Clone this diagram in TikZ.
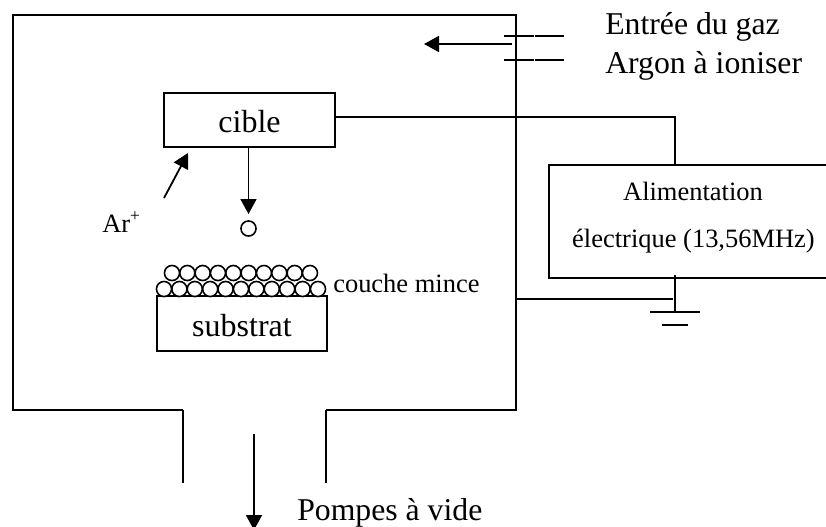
\documentclass[tikz,border=0pt]{standalone}
\usepackage{fontspec}
\setmainfont{Liberation Serif}
\usetikzlibrary{arrows.meta}
\begin{document}
\begin{tikzpicture}[x=0.75pt,y=-0.75pt,
  wall/.style={line width=1.6pt},
  wire/.style={line width=1.35pt},
  arr/.style={line width=1.35pt,-{Triangle[length=11.25pt,width=12pt]}},
  atom/.style={circle,draw,line width=1.2pt,fill=white,minimum size=11.3pt,inner sep=0pt},
  big/.style={font=\fontsize{23.8pt}{28pt}\selectfont,inner sep=0pt},
  mid/.style={font=\fontsize{19.85pt}{24pt}\selectfont,inner sep=0pt},
  boxed/.style={draw,line width=1.4pt,inner sep=0pt,font=\fontsize{24pt}{28pt}\selectfont,text depth=0pt}]
\useasboundingbox (0,0) rectangle (826,526);
\draw[wall] (183,410) -- (13,410) -- (13,15) -- (516,15) -- (516,410) -- (326,410);
\draw[wire] (183,410) -- (183,483);
\draw[wire] (326,410) -- (326,483);
% gas inlet
\coordinate (g1a) at (504,36); \coordinate (g1b) at (533.5,36);
\coordinate (g1c) at (535,36); \coordinate (g1d) at (564,36);
\coordinate (g2a) at (504,60); \coordinate (g2b) at (533.5,60);
\coordinate (g2c) at (535,60); \coordinate (g2d) at (564,60);
\draw[wire] (g1a) -- (g1b) (g1c) -- (g1d);
\draw[wire] (g2a) -- (g2b) (g2c) -- (g2d);
\coordinate (gs) at (512,44); \coordinate (ge) at (424,44);
\draw[arr] (gs) -- (ge);
\node[big,anchor=base west] (entree) at (605,34) {Entrée du gaz};
\node[big,anchor=base west] (argon) at (605,73) {Argon à ioniser};
% boxes
\node[boxed,text height=18pt,minimum width=128.5pt,minimum height=40.5pt] (cible) at (249.5,120) {cible};
\node[boxed,text height=18.8pt,minimum width=127.5pt,minimum height=41.25pt] (substrat) at (242,323.5) {substrat};
% alimentation
\coordinate (a1) at (826,165); \coordinate (a2) at (549,165);
\coordinate (a3) at (549,278); \coordinate (a4) at (826,278);
\draw[wire] (a1) -- (a2) -- (a3) -- (a4);
\node[mid,anchor=base] (alim1) at (693,200) {Alimentation};
\node[mid,anchor=base] (alim2) at (693.5,247) {électrique (13,56MHz)};
% wires
\coordinate (w0) at (336,117);
\coordinate (w1) at (675,117); \coordinate (w2) at (675,165);
\draw[wire] (w0) -- (w1) -- (w2);
\coordinate (gt) at (675,275); \coordinate (gb) at (675,312);
\draw[wire] (gt) -- (gb);
\coordinate (c0) at (516,299); \coordinate (c1) at (673,299);
\draw[wire] (c0) -- (c1);
\coordinate (gl1) at (650,312); \coordinate (gr1) at (700,312);
\coordinate (gl2) at (662,325); \coordinate (gr2) at (688,325);
\draw[wire] (gl1) -- (gr1);
\draw[wall] (gl2) -- (gr2);
% arrows
\node[atom] (ion) at (248.5,228.5) {};
\coordinate (is) at (248.5,147); \coordinate (ie) at (248.5,214);
\draw[arr] (is) -- (ie);
\coordinate (as) at (164,198); \coordinate (ae) at (188,153);
\draw[arr] (as) -- (ae);
\node[mid,anchor=base west] (ar) at (102,232) {Ar\raisebox{8pt}{\fontsize{13pt}{15pt}\selectfont +}};
% atoms
\foreach \n in {0,...,10} {
  \node[atom] (l\n) at ({164+\n*15.4},289) {};
}
\foreach \n in {0,...,9} {
  \node[atom] (u\n) at ({172+\n*15.33},273) {};
}
\node[mid,anchor=base west] (cm) at (333,292) {couche mince};
\node[big,anchor=base west] (pv) at (297,520) {Pompes à vide};
\coordinate (ps) at (254,434); \coordinate (pe) at (254,530);
\draw[arr] (ps) -- (pe);
\end{tikzpicture}
\end{document}
